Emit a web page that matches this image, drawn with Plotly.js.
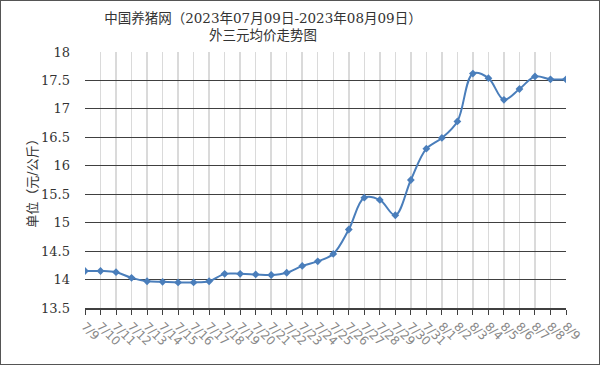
<!DOCTYPE html>
<html>
<head>
<meta charset="utf-8">
<script src="https://cdn.plot.ly/plotly-3.0.1.min.js"></script>
<style>
  html, body { margin: 0; padding: 0; background: #fff; }
  #chart { width: 600px; height: 365px; box-sizing: border-box; border: 1px solid #555; }
</style>
</head>
<body>
<div id="chart"></div>
<script>
const dates = ["7/9","7/10","7/11","7/12","7/13","7/14","7/15","7/16","7/17","7/18","7/19","7/20","7/21","7/22","7/23","7/24","7/25","7/26","7/27","7/28","7/29","7/30","7/31","8/1","8/2","8/3","8/4","8/5","8/6","8/7","8/8","8/9"];
const prices = [14.15,14.15,14.13,14.03,13.97,13.96,13.95,13.95,13.97,14.10,14.10,14.09,14.08,14.12,14.24,14.32,14.45,14.88,15.44,15.40,15.13,15.75,16.30,16.49,16.78,17.62,17.54,17.16,17.35,17.57,17.52,17.52];
const yTicks = [13.5,14,14.5,15,15.5,16,16.5,17,17.5,18];
const yTickText = ["13.5","14","14.5","15","15.5","16","16.5","17","17.5","18"];
const titleText = "中国养猪网（2023年07月09日-2023年08月09日）<br>外三元均价走势图";
const yTitle = "单位（元/公斤）";

const serif = "DejaVu Serif, Liberation Serif, Noto Sans CJK SC, serif";

const trace = {
  x: dates,
  y: prices,
  type: 'scatter',
  mode: 'lines+markers',
  line: { color: '#4a7ebb', width: 2, shape: 'spline', smoothing: 1 },
  marker: { symbol: 'diamond', size: 6, color: '#4a7ebb' },
  hoverinfo: 'x+y'
};

const layout = {
  width: 598, height: 363,
  margin: { l: 84, r: 33, t: 51, b: 56 },
  paper_bgcolor: '#fff', plot_bgcolor: '#fff',
  showlegend: false,
  title: {
    text: titleText,
    font: { family: serif, size: 13.5, color: '#333' },
    xref: 'container', x: 0.438, xanchor: 'center',
    yref: 'container', y: 0.94, yanchor: 'top'
  },
  xaxis: {
    type: 'category',
    range: [0, dates.length - 1],
    showgrid: true, gridcolor: '#dadada', gridwidth: 1.5,
    showline: true, linecolor: '#404040', linewidth: 1.5,
    ticks: 'outside', ticklen: 5, tickcolor: '#404040', tickwidth: 1,
    tickangle: 45,
    tickfont: { family: "DejaVu Sans, sans-serif", size: 12, color: '#888' },
    zeroline: false, fixedrange: true
  },
  yaxis: {
    range: [13.5, 18],
    tickvals: yTicks, ticktext: yTickText,
    showgrid: true, gridcolor: '#404040', gridwidth: 1,
    showline: false, zeroline: false, ticks: '',
    ticklabelstandoff: 14,
    tickfont: { family: serif, size: 13, color: '#333' },
    title: { text: yTitle, font: { family: serif, size: 13, color: '#333' }, standoff: 0 },
    automargin: false, fixedrange: true
  }
};

Plotly.newPlot('chart', [trace], layout, { displayModeBar: false, staticPlot: true });
</script>
</body>
</html>
